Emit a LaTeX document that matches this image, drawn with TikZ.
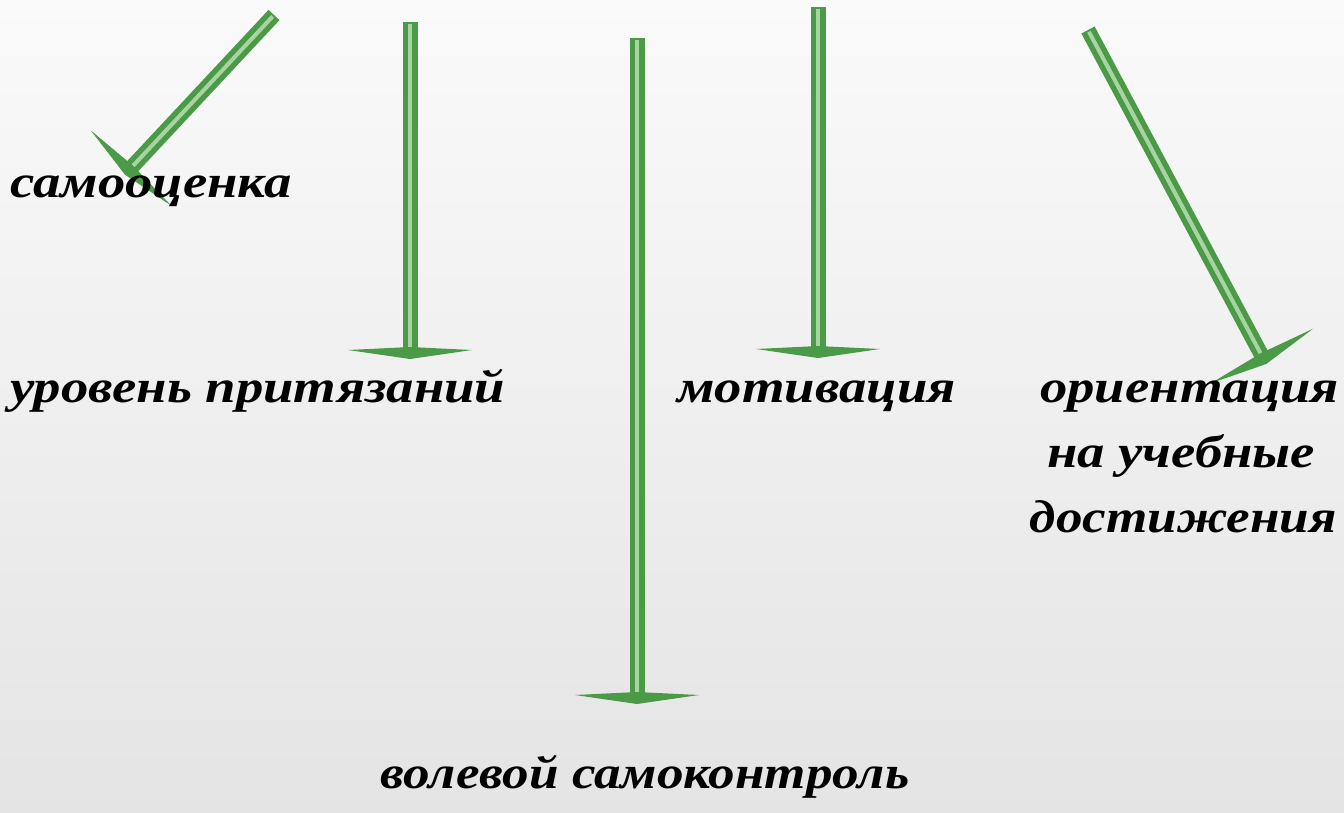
\documentclass[tikz,border=0pt]{standalone}
\usepackage{fontspec}
\setmainfont[BoldItalicFeatures={FakeStretch=1.19}]{Liberation Serif}
\usetikzlibrary{calc}
\definecolor{gdark}{HTML}{4A9A48}
\definecolor{glight}{HTML}{A8D4A2}
\definecolor{bgtop}{HTML}{FAFAFA}
\definecolor{bgbot}{HTML}{E4E4E4}
\tikzset{
  lbl/.style={inner sep=0pt, anchor=base west, font=\fontsize{46}{54}\selectfont\bfseries\itshape, text=black},
  shaftout/.style={draw=gdark, line width=15pt},
  shaftin/.style={draw=glight, line width=4pt},
  headfill/.style={fill=gdark},
}
\newcommand{\garrow}[3]{% start, end, half width
  \draw[shaftout] (#1) -- (#2);
  \draw[shaftin] ($(#1)!2pt!(#2)$) -- ($(#2)!3pt!(#1)$);
  \fill[headfill] ($(#2)!#3!90:(#1)$) -- ($(#2)!3pt!(#1)$) -- ($(#2)!#3!-90:(#1)$) -- ($(#2)!-9pt!(#1)$) -- cycle;
}
\begin{document}
\begin{tikzpicture}[x=1pt,y=-1pt]
\shade[top color=bgtop, bottom color=bgbot] (0,0) rectangle (1344,812);
\useasboundingbox (0,0) rectangle (1344,812);
% coordinates
\coordinate (a1s) at (274,15);  \coordinate (a1e) at (131,168);
\coordinate (a2s) at (410,22);  \coordinate (a2e) at (410,350);
\coordinate (a3s) at (637,38);  \coordinate (a3e) at (637,695);
\coordinate (a4s) at (818,7);   \coordinate (a4e) at (818,349);
\coordinate (a5s) at (1088,30); \coordinate (a5e) at (1262,356);
\garrow{a1s}{a1e}{55pt}
\garrow{a2s}{a2e}{62pt}
\garrow{a3s}{a3e}{62pt}
\garrow{a4s}{a4e}{62pt}
\garrow{a5s}{a5e}{58pt}
% labels
\node[lbl] (t1) at (10,197) {самооценка};
\node[lbl] (t2) at (10,402) {уровень притязаний};
\node[lbl] (t3) at (677,402) {мотивация};
\node[lbl] (t4) at (1040,402) {ориентация};
\node[lbl] (t5) at (1047,467) {на учебные};
\node[lbl, anchor=base east] (t6) at (1337,532) {\scalebox{0.97}[1]{достижения}};
\node[lbl, anchor=base] (t7) at (645,788) {\scalebox{0.97}[1]{волевой самоконтроль}};
\end{tikzpicture}
\end{document}
